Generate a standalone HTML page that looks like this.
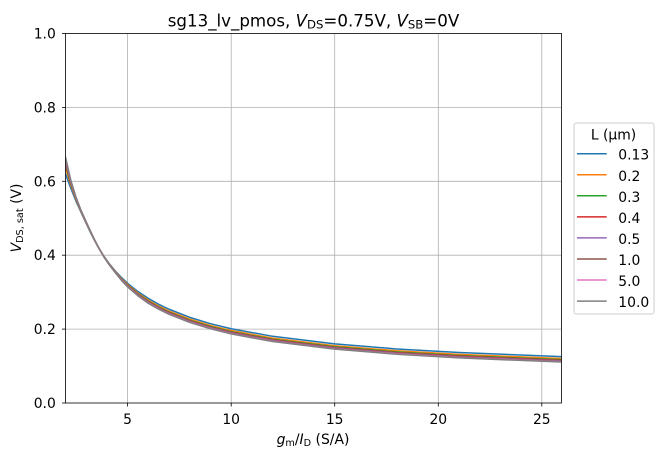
<!DOCTYPE html>
<html>
<head>
<meta charset="utf-8">
<style>
  html, body { margin: 0; padding: 0; background: #ffffff; }
  svg { display: block; }
  text { font-family: "DejaVu Sans", "Liberation Sans", sans-serif; fill: #000; }
</style>
</head>
<body>
<svg width="663" height="460" viewBox="0 0 663 460" xmlns="http://www.w3.org/2000/svg">
  <defs>
    <clipPath id="axclip">
      <rect x="65.5" y="33.5" width="496" height="369.5"/>
    </clipPath>
  </defs>
  <rect x="0" y="0" width="663" height="460" fill="#ffffff"/>

  <!-- grid -->
  <g stroke="#b0b0b0" stroke-width="0.8" fill="none">
    <line x1="127.6" y1="33.5" x2="127.6" y2="403"/>
    <line x1="231.2" y1="33.5" x2="231.2" y2="403"/>
    <line x1="334.7" y1="33.5" x2="334.7" y2="403"/>
    <line x1="438.3" y1="33.5" x2="438.3" y2="403"/>
    <line x1="541.8" y1="33.5" x2="541.8" y2="403"/>
    <line x1="65.5" y1="329.1" x2="561.5" y2="329.1"/>
    <line x1="65.5" y1="255.2" x2="561.5" y2="255.2"/>
    <line x1="65.5" y1="181.3" x2="561.5" y2="181.3"/>
    <line x1="65.5" y1="107.4" x2="561.5" y2="107.4"/>
  </g>

  <!-- curves -->
  <g clip-path="url(#axclip)">
    <g transform="matrix(20.71 0 0 -369.5 24.08 403)" fill="none" stroke-width="1.5" stroke-linejoin="round">
      <polyline vector-effect="non-scaling-stroke" stroke="#1f77b4" points="2,0.620 2.25,0.582 2.5,0.547 2.75,0.516 3,0.486 3.2,0.462 3.4,0.440 3.6,0.4197 3.85,0.3975 4.1,0.378 4.4,0.3575 4.7,0.3397 5,0.324 5.5,0.3016 6,0.283 6.5,0.2672 7,0.2537 8,0.2318 9,0.2147 10,0.201 12,0.1805 15,0.160 18,0.1463 21,0.1366 25.95,0.1254"/>
      <polyline vector-effect="non-scaling-stroke" stroke="#ff7f0e" points="2,0.636 2.25,0.590 2.5,0.551 2.75,0.518 3,0.487 3.2,0.4635 3.4,0.441 3.6,0.420 3.85,0.397 4.1,0.377 4.4,0.356 4.7,0.337 5,0.3205 5.5,0.2975 6,0.2783 6.5,0.2625 7,0.2489 8,0.227 9,0.2098 10,0.1961 12,0.1755 15,0.155 18,0.1413 21,0.1315 25.95,0.1203"/>
      <polyline vector-effect="non-scaling-stroke" stroke="#2ca02c" points="2,0.645 2.25,0.594 2.5,0.553 2.75,0.519 3,0.488 3.2,0.4642 3.4,0.441 3.6,0.4201 3.85,0.3967 4.1,0.3764 4.4,0.355 4.7,0.3355 5,0.3185 5.5,0.2952 6,0.2757 6.5,0.2598 7,0.2462 8,0.2242 9,0.2071 10,0.1933 12,0.1727 15,0.1521 18,0.1384 21,0.1286 25.95,0.1174"/>
      <polyline vector-effect="non-scaling-stroke" stroke="#d62728" points="2,0.651 2.25,0.597 2.5,0.5545 2.75,0.5194 3,0.4887 3.2,0.4647 3.4,0.4414 3.6,0.4202 3.85,0.3965 4.1,0.376 4.4,0.3544 4.7,0.3345 5,0.3172 5.5,0.2937 6,0.274 6.5,0.2581 7,0.2445 8,0.2224 9,0.2052 10,0.1915 12,0.1708 15,0.1503 18,0.1365 21,0.1267 25.95,0.1155"/>
      <polyline vector-effect="non-scaling-stroke" stroke="#9467bd" points="2,0.6559 2.25,0.5992 2.5,0.5556 2.75,0.5199 3,0.4891 3.2,0.465 3.4,0.4416 3.6,0.4203 3.85,0.3963 4.1,0.3757 4.4,0.354 4.7,0.3337 5,0.3162 5.5,0.2926 6,0.2726 6.5,0.2567 7,0.2431 8,0.221 9,0.2039 10,0.1901 12,0.1694 15,0.1488 18,0.1351 21,0.1252 25.95,0.114"/>
      <polyline vector-effect="non-scaling-stroke" stroke="#8c564b" points="2,0.660 2.25,0.6011 2.5,0.5566 2.75,0.5204 3,0.4895 3.2,0.4653 3.4,0.4417 3.6,0.4204 3.85,0.3962 4.1,0.3754 4.4,0.3536 4.7,0.333 5,0.3153 5.5,0.2915 6,0.2714 6.5,0.2555 7,0.2419 8,0.2198 9,0.2026 10,0.1888 12,0.1681 15,0.1476 18,0.1338 21,0.1239 25.95,0.1127"/>
      <polyline vector-effect="non-scaling-stroke" stroke="#e377c2" points="2,0.6632 2.25,0.6027 2.5,0.5573 2.75,0.5207 3,0.4898 3.2,0.4656 3.4,0.4419 3.6,0.4205 3.85,0.3961 4.1,0.3752 4.4,0.3533 4.7,0.3325 5,0.3146 5.5,0.2907 6,0.2705 6.5,0.2546 7,0.2409 8,0.2188 9,0.2016 10,0.1878 12,0.1672 15,0.1466 18,0.1328 21,0.1229 25.95,0.1117"/>
      <polyline vector-effect="non-scaling-stroke" stroke="#7f7f7f" points="2,0.666 2.25,0.604 2.5,0.558 2.75,0.521 3,0.490 3.2,0.4658 3.4,0.442 3.6,0.4205 3.85,0.396 4.1,0.375 4.4,0.353 4.7,0.332 5,0.314 5.5,0.290 6,0.2697 6.5,0.2538 7,0.2401 8,0.218 9,0.2008 10,0.187 12,0.1663 15,0.1457 18,0.1319 21,0.122 25.95,0.1108"/>
    </g>
  </g>

  <!-- spines -->
  <rect x="65.5" y="33.5" width="496" height="369.5" fill="none" stroke="#000" stroke-width="0.8"/>

  <!-- ticks -->
  <g stroke="#000" stroke-width="0.8">
    <line x1="127.6" y1="403" x2="127.6" y2="406.5"/>
    <line x1="231.2" y1="403" x2="231.2" y2="406.5"/>
    <line x1="334.7" y1="403" x2="334.7" y2="406.5"/>
    <line x1="438.3" y1="403" x2="438.3" y2="406.5"/>
    <line x1="541.8" y1="403" x2="541.8" y2="406.5"/>
    <line x1="62" y1="403" x2="65.5" y2="403"/>
    <line x1="62" y1="329.1" x2="65.5" y2="329.1"/>
    <line x1="62" y1="255.2" x2="65.5" y2="255.2"/>
    <line x1="62" y1="181.3" x2="65.5" y2="181.3"/>
    <line x1="62" y1="107.4" x2="65.5" y2="107.4"/>
    <line x1="62" y1="33.5" x2="65.5" y2="33.5"/>
  </g>

  <!-- tick labels -->
  <g font-size="13.9px" text-anchor="middle">
    <text x="127.6" y="424">5</text>
    <text x="231.2" y="424">10</text>
    <text x="334.7" y="424">15</text>
    <text x="438.3" y="424">20</text>
    <text x="541.8" y="424">25</text>
  </g>
  <g font-size="13.9px" text-anchor="end">
    <text x="55.8" y="408">0.0</text>
    <text x="55.8" y="334.1">0.2</text>
    <text x="55.8" y="260.2">0.4</text>
    <text x="55.8" y="186.3">0.6</text>
    <text x="55.8" y="112.4">0.8</text>
    <text x="55.8" y="38.5">1.0</text>
  </g>

  <!-- title -->
  <text x="313.5" y="26.7" font-size="16.67px" text-anchor="middle">sg13_lv_pmos, <tspan font-style="italic">V</tspan><tspan font-size="11.7px" dy="2">DS</tspan><tspan dy="-2">=0.75V, </tspan><tspan font-style="italic">V</tspan><tspan font-size="11.7px" dy="2">SB</tspan><tspan dy="-2">=0V</tspan></text>

  <!-- x label -->
  <text x="313" y="444" font-size="13.9px" text-anchor="middle"><tspan font-style="italic">g</tspan><tspan font-size="9.7px" dy="2">m</tspan><tspan dy="-2">/</tspan><tspan font-style="italic">I</tspan><tspan font-size="9.7px" dy="2">D</tspan><tspan dy="-2"> (S/A)</tspan></text>

  <!-- y label -->
  <text transform="translate(21,218) rotate(-90)" x="0" y="0" font-size="13.9px" text-anchor="middle"><tspan font-style="italic">V</tspan><tspan font-size="9.7px" dy="2">DS, sat</tspan><tspan dy="-2"> (V)</tspan></text>

  <!-- legend -->
  <rect x="574" y="123" width="80" height="191" rx="2.5" ry="2.5" fill="#ffffff" fill-opacity="0.8" stroke="#cccccc" stroke-width="1"/>
  <text x="613.5" y="139.5" font-size="13.9px" text-anchor="middle">L (µm)</text>
  <g stroke-width="1.5">
    <line x1="577" y1="153.7" x2="606.7" y2="153.7" stroke="#1f77b4"/>
    <line x1="577" y1="174.8" x2="606.7" y2="174.8" stroke="#ff7f0e"/>
    <line x1="577" y1="195.8" x2="606.7" y2="195.8" stroke="#2ca02c"/>
    <line x1="577" y1="216.9" x2="606.7" y2="216.9" stroke="#d62728"/>
    <line x1="577" y1="237.9" x2="606.7" y2="237.9" stroke="#9467bd"/>
    <line x1="577" y1="259.0" x2="606.7" y2="259.0" stroke="#8c564b"/>
    <line x1="577" y1="280.0" x2="606.7" y2="280.0" stroke="#e377c2"/>
    <line x1="577" y1="301.1" x2="606.7" y2="301.1" stroke="#7f7f7f"/>
  </g>
  <g font-size="13.9px">
    <text x="618.3" y="159.7">0.13</text>
    <text x="618.3" y="180.8">0.2</text>
    <text x="618.3" y="201.8">0.3</text>
    <text x="618.3" y="222.9">0.4</text>
    <text x="618.3" y="243.9">0.5</text>
    <text x="618.3" y="265.0">1.0</text>
    <text x="618.3" y="286.0">5.0</text>
    <text x="618.3" y="307.1">10.0</text>
  </g>
</svg>
</body>
</html>
